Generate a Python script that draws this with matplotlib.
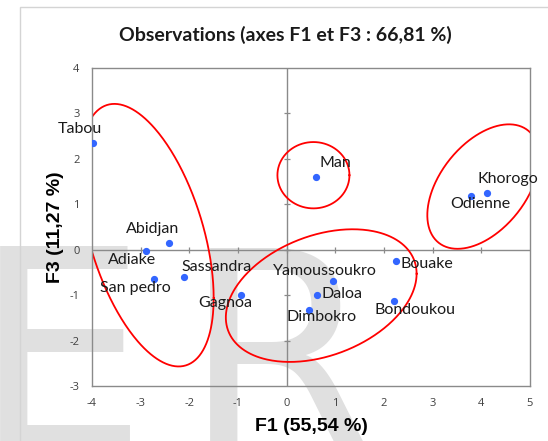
import numpy as np
import matplotlib
matplotlib.use("Agg")
import matplotlib.pyplot as plt
from matplotlib.patches import Rectangle

# --- data -------------------------------------------------------------
cities = ["Tabou", "Abidjan", "Adiake", "San pedro", "Sassandra", "Gagnoa",
          "Man", "Khorogo", "Odienne", "Bouake", "Yamoussoukro", "Daloa",
          "Dimbokro", "Bondoukou"]
f1 = [-3.97, -2.42, -2.89, -2.72, -2.11, -0.93,
      0.60, 4.11, 3.78, 2.25, 0.95, 0.63, 0.46, 2.20]
f3 = [2.35, 0.15, -0.03, -0.64, -0.60, -1.00,
      1.60, 1.24, 1.19, -0.24, -0.68, -1.00, -1.33, -1.13]

x_ticks = list(range(-4, 6))
y_ticks = list(range(-3, 5))

title = "Observations (axes F1 et F3 : 66,81 %)"
x_label = "F1 (55,54 %)"
y_label = "F3 (11,27 %)"

# cluster outlines: centre, half extents, and x-offset of the top point / half width
groups_cx = [-2.88, 0.55, 4.04, 0.71]
groups_cy = [0.32, 1.64, 1.39, -1.01]
groups_w = [1.38, 0.74, 1.15, 1.96]
groups_h = [2.89, 0.73, 1.37, 1.46]
groups_k = [-0.478, 0.0, 0.46, 0.33]

# label placement (pixels, relative to the point)
label_offsets = {
    "Tabou": (-14, 14), "Abidjan": (-16, 14), "Adiake": (-14, -9),
    "San pedro": (-19, -9), "Sassandra": (33, 10), "Gagnoa": (-16, -8),
    "Man": (20, 14), "Khorogo": (21, 14), "Odienne": (10, -8),
    "Bouake": (31, -3), "Yamoussoukro": (-8, 10), "Daloa": (25, 1),
    "Dimbokro": (13, -7), "Bondoukou": (21, -9),
}

plt.rcParams["axes.unicode_minus"] = False

W, H = 548, 441
fig = plt.figure(figsize=(W / 100, H / 100), dpi=100, facecolor="white")

# faint background lettering
letter_kw = dict(fontsize=199, color="#e0e0e0", family="DejaVu Sans",
                 va="baseline", ha="left", zorder=0)
fig.text(-27 / W, -0.016, "E", **letter_kw)
fig.text(183 / W, -0.016, "R", **letter_kw)

# chart area border
fig.patches.append(Rectangle((20 / W, -0.1), 1.2, (441 - 7) / H + 0.1,
                             transform=fig.transFigure, fill=False,
                             edgecolor="#d4d4d4", lw=1.0, zorder=1))

ax = fig.add_axes([92 / W, 55 / H, 438 / W, 318 / H])
ax.set_zorder(5)
ax.set_facecolor("none")
ax.set_xlim(x_ticks[0], x_ticks[-1])
ax.set_ylim(y_ticks[0], y_ticks[-1])
ax.set_xticks(x_ticks)
ax.set_yticks(y_ticks)

grey = "#8a8a8a"
for s in ax.spines.values():
    s.set_color(grey)
    s.set_linewidth(1.0)
ax.tick_params(length=0, labelsize=8, labelcolor="#404040", pad=9)
for lab in ax.get_xticklabels() + ax.get_yticklabels():
    lab.set_family("Open Sans")

# zero lines with cross ticks
ax.axhline(0, color=grey, lw=1.0, zorder=1)
ax.axvline(0, color=grey, lw=1.0, zorder=1)
ax.plot(x_ticks[1:-1], [0] * (len(x_ticks) - 2), ls="none", marker="|",
        ms=5, mew=0.9, color=grey, zorder=1)
ax.plot([0] * (len(y_ticks) - 2), y_ticks[1:-1], ls="none", marker="_",
        ms=5, mew=0.9, color=grey, zorder=1)

# cluster outlines
t = np.linspace(0, 2 * np.pi, 400)
for cx, cy, w, h, k in zip(groups_cx, groups_cy, groups_w, groups_h, groups_k):
    phi = np.arccos(k)
    ax.plot(cx + w * np.cos(t), cy + h * np.cos(t - phi),
            color="#ff0000", lw=1.3, zorder=2)

# observations
ax.plot(f1, f3, ls="none", marker="o", ms=4.2, color="#3366ff",
        mec="#3366ff", zorder=3)
for name, x, y in zip(cities, f1, f3):
    dx, dy = label_offsets[name]
    ax.annotate(name, (x, y), xytext=(dx, dy), textcoords="offset pixels",
                ha="center", va="center", fontsize=11.5, family="Lato",
                color="#1a1a1a", zorder=4)

ax.set_xlabel(x_label, fontsize=14, fontweight="bold",
              family="Liberation Sans", labelpad=6)
ax.set_ylabel(y_label, fontsize=14, fontweight="bold",
              family="Liberation Sans", labelpad=4)
fig.text(0.521, 1 - 35 / H, title, ha="center", va="center", fontsize=14,
         fontweight="bold", family="Lato", color="#1a1a1a")

fig.savefig("out.png", dpi=100, facecolor="white")
